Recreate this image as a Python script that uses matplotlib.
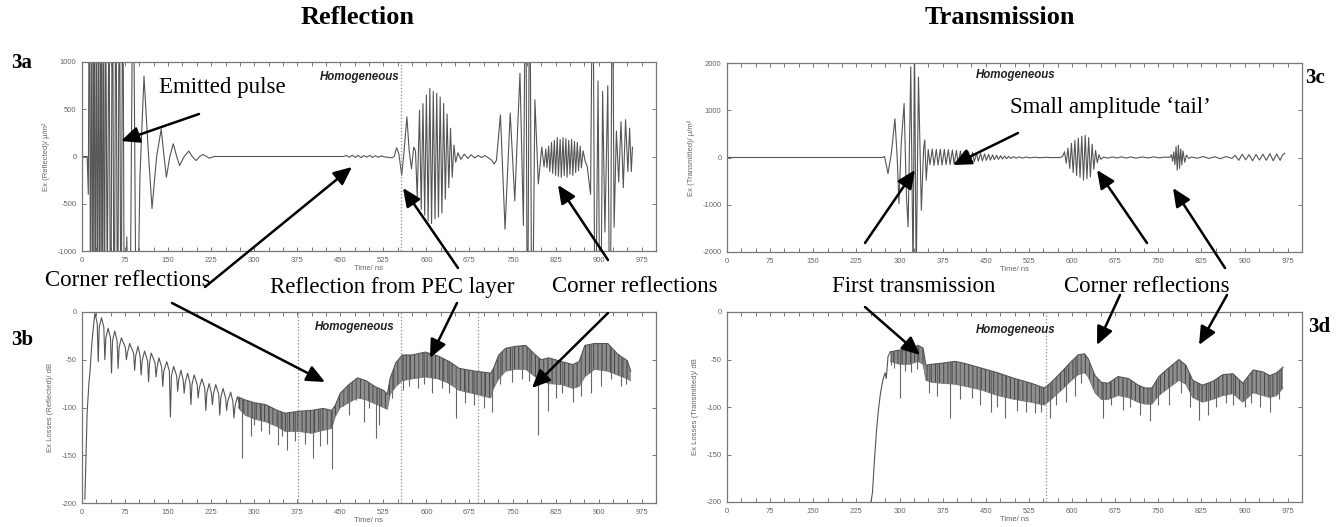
"""
Reflection / transmission GPR traces (Fig. 3a-3d re-drawn)
"""

import matplotlib.pyplot as plt
from matplotlib.patches import FancyArrowPatch
from matplotlib.ticker import MultipleLocator
import numpy as np

plt.rcParams['axes.unicode_minus'] = False
plt.rcParams['font.family'] = 'Liberation Sans'
plt.rcParams['hatch.linewidth'] = 0.7

# ---------------- data ----------------
# 3a: reflected Ex, time in ns
ra_t = [0, 9, 11, 13, 15, 17, 19, 21, 23, 25, 27, 29, 31, 33, 35, 37, 39, 41, 44, 47,
        50, 53, 56, 59, 62, 65, 68, 71, 74, 78, 83, 89, 95, 101, 108, 115, 122, 130, 138, 143,
        147, 153, 159, 165, 170, 178, 186, 192, 199, 205, 211, 217, 222, 230, 250, 455,
        461, 466, 471, 476, 481, 486, 491, 496, 501, 506, 511, 516, 521, 527, 534, 540, 544,
        548, 552, 557, 561, 566, 570, 574, 578, 581, 584, 588, 591, 594, 597, 600, 603, 606,
        609, 612, 615, 618, 621, 624, 627, 630, 633, 636, 639, 642, 645, 648, 651, 655, 660,
        666, 672, 678, 684, 690, 696, 702, 708, 714, 718, 722, 729, 737, 746, 754, 759, 763,
        769, 773, 776, 780, 784, 789, 795, 801, 805, 808, 810, 813, 815, 818, 820, 823, 825,
        828, 830, 833, 835, 838, 840, 843, 845, 848, 850, 853, 855, 858, 860, 863, 865, 868,
        870, 873, 877, 880, 886, 890, 894, 899, 903, 907, 911, 916, 920, 924, 927, 931, 935,
        939, 943, 947, 951, 954, 957, 959]
ra_v = [0, 0, -400, 2500, -2500, 2500, -2500, 2500, -2500, 2500, -2500, 2500, -2500, 2500,
        -2500, 2500, -2500, 2000, -1500, 1800, -2500, 2500, -2500, 2500, -2500, 2500, -2500,
        2500, -2500, -850, -2500, 2500, -2500, -200, 850, 100, -550, 0, 290, 0, -220, 0, 135,
        0, -96, 0, 57, 0, -43, 0, 21, 0, -18, 0, 0, 0,
        10, -8, 14, -10, 12, -12, 10, -6, 12, -10, 8, -8, 6, -4, -10, -14, 0,
        92, 30, -200, 50, 420, 60, -130, 100, 60, -430, 490, -560, 560, -620, 650, -680, 720,
        -710, 690, -660, 670, -640, 630, -600, 560, -450, 450, -330, 300, -220, 120, -60, 40,
        -30, 25, -20, 18, -15, 12, -12, 10, -15, -40, -80, -40, 440, -770, 460, -470, 300, 880,
        -730, 2500, -2500, 2500, -2500, 600, -290, 100, -110, 80, -120, 110, -160, 150, -180,
        170, -200, 200, -210, 180, -220, 200, -200, 190, -220, 170, -190, 180, -200, 160, -170,
        150, -150, 110, -120, 60, -60, -100, -400, 2500, -2500, 800, -2500, 690, -800, 750,
        -2500, 2500, -750, 270, -270, 370, -330, 390, -160, 300, -160, 100]

# 3c: transmitted Ex
tc_t = [0, 270, 274, 280, 286, 292, 296, 299, 303, 308, 312, 315, 319.6, 323.7, 326, 329,
        333, 338, 342, 344, 346.5, 350, 353, 357, 360, 364, 367, 371, 374, 378, 381, 385,
        388, 392, 395, 399, 402, 406, 409, 413, 416, 420, 423, 427, 430, 434, 437, 441, 444,
        448, 451, 455, 458, 462, 465, 469, 472, 476, 479, 483, 486, 490, 494, 498, 503, 508,
        514, 520, 527, 535, 545, 555, 565, 580, 584, 587, 590, 593, 596, 599, 602, 605, 608,
        611, 614, 617, 620, 623, 626, 629, 632, 635, 638, 641, 644, 647, 650, 655, 662, 670,
        678, 686, 694, 702, 712, 722, 732, 742, 752, 762, 770, 773, 775, 777, 779, 781, 783,
        785, 787, 789, 791, 793, 796, 799, 803, 808, 818, 828, 838, 848, 858, 868, 878, 884,
        890, 896, 902, 908, 914, 920, 926, 932, 938, 944, 950, 956, 962, 966, 970]
tc_v = [0, 0, 20, -340, 100, 820, 0, -975, 300, 1143, -800, -1470, 1920, -2600, 2600, -2600,
        1700, -1115, 200, 370, -480, 170, -150, 180, -170, 170, -160, 175, -160, 170, -150, 165,
        -150, 160, -140, 150, -130, 140, -120, 130, -110, 120, -100, 110, -90, 95, -80, 85, -70,
        75, -60, 65, -55, 55, -45, 45, -40, 38, -32, 30, -26, 24, -20, 18, -15, 14,
        -12, 10, -8, 6, -5, 4, -3, 0, 30, 120, -120, 200, -230, 300, -320, 360, -380,
        410, -420, 450, -480, 470, -450, 420, -410, 280, -250, 150, -110, 60, -40, 10, -15, 12,
        -10, 15, -12, 10, -14, 12, -10, 14, -8, 10, 0, 60, -80, 120, -150, 230, -270,
        260, -230, 180, -160, 140, -100, 50, -20, 10, -15, 20, -20, 15, -25, 20, -20, 45,
        -60, 70, -50, 60, -70, 65, -55, 70, -60, 80, -70, 75, -60, 50, 90]

# 3b: reflected losses (dB) - first rise and the scallops (top, shoulder, dip, shoulder)
rb_t = [5, 7, 9, 12, 14, 17, 20, 22.5,
        26.5, 28.3, 30, 34, 38, 39.8, 41.6, 45.5, 49.6, 51.4, 53.2, 57,
        61.1, 62.9, 64.7, 68.6, 75.5, 77.3, 79.1, 83, 89.9, 91.7, 93.5, 97.5,
        101.2, 103, 104.8, 109, 114.2, 116, 117.8, 120.5, 127.2, 129, 130.8, 134,
        138.9, 140.7, 142.5, 147.6, 152.2, 154, 155.8, 159.7, 164.9, 166.7, 168.5, 172.4,
        176.2, 178, 179.8, 184, 188, 189.8, 191.6, 195.5, 200.6, 202.4, 204.2, 208.8,
        213.9, 215.7, 217.5, 221.5, 225.4, 227.2, 229, 233, 238.2, 240, 241.8, 245.7,
        250.2, 252, 253.8, 259, 262.9, 264.7, 266.5, 270.5, 274]
rb_v = [-196, -150, -105, -75, -62, -34, -15, -1,
        -12, -52, -16, -6, -16, -50, -27, -17, -27, -64, -30, -20,
        -30, -59, -37, -27, -37, -50, -43, -33, -43, -61, -46, -36,
        -46, -66, -51, -41, -51, -73, -53, -43, -53, -68, -58, -48,
        -58, -78, -62, -52, -62, -110, -67, -57, -67, -83, -71, -61,
        -71, -85, -74, -64, -74, -97, -76, -66, -76, -90, -80, -70,
        -80, -103, -85, -75, -85, -97, -86, -76, -86, -108, -90, -80,
        -90, -103, -94, -84, -94, -111, -99, -89, -95]
# 3b: noisy band (upper / lower edge) and isolated spikes
bb_t = [272, 284, 300, 320, 340, 354, 377, 400, 420, 435, 441, 450, 465, 480, 495, 510, 525,
        532, 537, 547, 558, 575, 598, 620, 640, 657, 685, 712, 717, 726, 738, 755, 773, 790,
        800, 813, 836, 855, 866, 876, 893, 916, 933, 950, 956]
bb_upper = [-89, -92, -95, -97, -103, -106, -104, -103, -101, -103, -98, -85, -76, -69, -72,
            -78, -82, -86, -69, -53, -45, -45, -42, -46, -52, -59, -62, -64, -59, -45, -38,
            -36, -35, -45, -50, -48, -52, -55, -52, -35, -33, -33, -44, -51, -62]
bb_lower = [-100, -108, -112, -115, -120, -125, -125, -127, -124, -122, -110, -100, -95, -90,
            -92, -96, -100, -102, -86, -78, -72, -70, -68, -70, -75, -82, -86, -90, -80, -70,
            -62, -60, -60, -68, -72, -75, -76, -80, -78, -68, -60, -62, -66, -70, -72]
sb_t = [279, 294, 300, 311, 325, 342, 348, 357, 371, 388, 403, 415, 426, 435, 455, 466, 478,
        492, 500, 512, 518, 540, 560, 570, 585, 595, 610, 628, 640, 651, 668, 683, 700, 714.5,
        728, 749, 766, 778, 795, 812.6, 826, 835.6, 856, 870, 887.5, 905, 922, 939, 948]
sb_v = [-153, -130, -118, -125, -128, -139, -130, -144, -135, -138, -153, -140, -138, -164,
        -98, -108, -92, -115, -100, -132, -118, -90, -82, -78, -80, -75, -85, -80, -85, -111,
        -95, -97, -100, -105, -75, -73, -70, -72, -129, -104, -90, -85, -94, -88, -85, -78,
        -70, -77, -75]

# 3d: transmitted losses (dB)
td_t = [249, 253, 256, 260, 263, 267, 271, 275, 277, 280, 284]
td_v = [-205, -190, -160, -125, -105, -85, -72, -64, -70, -47, -42]
bd_t = [284, 300, 318, 332, 341, 346, 356, 373, 396, 413, 442, 471, 500, 529, 552, 564, 582,
        599, 611, 622, 628, 640, 651, 663, 680, 698, 715, 727, 739, 751, 768, 786, 798, 810,
        827, 845, 862, 880, 897, 915, 932, 944, 956, 967]
bd_upper = [-42, -40, -40, -35, -38, -56, -55, -54, -52, -54, -59, -64, -70, -75, -80, -74,
            -63, -52, -45, -44, -49, -67, -74, -75, -68, -70, -77, -80, -80, -68, -59, -50,
            -56, -72, -77, -73, -66, -65, -75, -61, -63, -67, -64, -58]
bd_lower = [-52, -55, -55, -52, -55, -72, -74, -75, -76, -78, -82, -88, -92, -95, -98, -92,
            -82, -72, -66, -64, -68, -85, -92, -92, -88, -90, -95, -97, -97, -88, -80, -72,
            -76, -90, -95, -92, -88, -86, -95, -85, -88, -90, -88, -80]
sd_t = [286, 291, 300, 310, 320, 330, 352, 365, 387, 405, 426, 440, 459, 470, 483, 505, 520,
        535, 546, 561, 572, 590, 605, 615, 654, 668, 689, 700, 718, 736, 750, 768, 790, 805,
        821, 836, 850, 868, 880, 900, 912, 927, 944, 960]
sd_v = [-56, -59, -91, -62, -63, -60, -85, -88, -112, -92, -90, -98, -105, -100, -112, -104,
        -105, -106, -105, -112, -98, -95, -88, -75, -112, -98, -103, -100, -108, -115, -98,
        -98, -85, -100, -114, -108, -100, -96, -98, -100, -96, -100, -105, -92]

TIME_TICKS = [0, 75, 150, 225, 300, 375, 450, 525, 600, 675, 750, 825, 900, 975]

W, H = 1343, 527
LINE = '#555555'
GREY = '#666666'


def fx(x):
    return x / W


def fy(y):
    return 1 - y / H


def add_axes(fig, left, top, right, bottom):
    return fig.add_axes([fx(left), fy(bottom), fx(right - left), (bottom - top) / H])


def style_axes(ax, ylim, yticks, ylabel):
    ax.set_xlim(0, 1000)
    ax.set_ylim(*ylim)
    ax.set_xticks(TIME_TICKS)
    ax.xaxis.set_minor_locator(MultipleLocator(25))
    ax.set_yticks(yticks)
    ax.tick_params(which='both', direction='in', top=True, right=True, length=3,
                   width=0.7, color='#777777', labelsize=5.5, labelcolor=GREY, pad=4)
    for s in ax.spines.values():
        s.set_color('#777777')
        s.set_linewidth(0.9)
    ax.set_xlabel('Time/ ns', fontsize=5.5, color=GREY, labelpad=1)
    ax.set_ylabel(ylabel, fontsize=5.5, color=GREY, labelpad=5)


def homogeneous(ax, x, y):
    ax.text(x, y, 'Homogeneous', transform=ax.get_xaxis_transform(), ha='right',
            va='center', fontsize=8.3, fontweight='bold', style='italic', color='#222222')


def band(ax, t, upper, lower, spike_t, spike_v):
    # dense oscillation drawn as a hatched strip between its two edges
    ax.fill_between(t, upper, lower, facecolor='#8e8e8e', edgecolor='#444444',
                    hatch='||||', linewidth=0)
    ax.plot(t, upper, color=LINE, lw=0.8)
    ax.plot(t, lower, color='#777777', lw=0.6)
    tops = np.interp(spike_t, t, upper)
    ax.vlines(spike_t, spike_v, tops, color='#666666', lw=0.8)


fig = plt.figure(figsize=(13.43, 5.27), dpi=100)

# 3a
ax_a = add_axes(fig, 82, 62, 656, 251)
ax_a.plot(ra_t, ra_v, color=LINE, lw=0.8)
ax_a.axvline(555, color='#888888', ls=':', lw=0.9)
style_axes(ax_a, (-1000, 1000), [-1000, -500, 0, 500, 1000], 'Ex (Reflected)/ μ/m²')
homogeneous(ax_a, 553, 0.92)

# 3c
ax_c = add_axes(fig, 727, 63, 1302, 252)
ax_c.plot(tc_t, tc_v, color=LINE, lw=0.8)
style_axes(ax_c, (-2000, 2000), [-2000, -1000, 0, 1000, 2000], 'Ex (Transmitted)/ μ/m²')
homogeneous(ax_c, 572, 0.935)

# 3b
ax_b = add_axes(fig, 82, 312, 656, 503)
ax_b.plot(rb_t, rb_v, color=LINE, lw=0.8)
band(ax_b, bb_t, bb_upper, bb_lower, sb_t, sb_v)
for xv in (377, 555, 690):
    ax_b.axvline(xv, color='#888888', ls=':', lw=0.9)
style_axes(ax_b, (-200, 0), [-200, -150, -100, -50, 0], 'Ex Losses (Reflected)/ dB')
homogeneous(ax_b, 545, 0.92)

# 3d
ax_d = add_axes(fig, 727, 312, 1302, 502)
ax_d.plot(td_t, td_v, color=LINE, lw=0.8)
band(ax_d, bd_t, bd_upper, bd_lower, sd_t, sd_v)
ax_d.axvline(555, color='#888888', ls=':', lw=0.9)
style_axes(ax_d, (-200, 0), [-200, -150, -100, -50, 0], 'Ex Losses (Transmitted)/ dB')
homogeneous(ax_d, 572, 0.905)

# headings and panel labels
serif = 'Liberation Serif'
fig.text(fx(358), fy(18), 'Reflection', ha='center', va='center', fontsize=19,
         fontweight='bold', family=serif)
fig.text(fx(1000), fy(18), 'Transmission', ha='center', va='center', fontsize=19,
         fontweight='bold', family=serif)
for lab, x, y in [('3a', 22, 63), ('3b', 22, 340), ('3c', 1315, 78), ('3d', 1319, 327)]:
    fig.text(fx(x), fy(y), lab, ha='center', va='center', fontsize=15,
             fontweight='bold', family=serif)

# annotation texts
notes = [
    ('Emitted pulse', 222, 88),
    ('Corner reflections', 128, 281),
    ('Reflection from PEC layer', 392, 288),
    ('Corner reflections', 635, 287),
    ('Small amplitude \u2018tail\u2019', 1110, 107),
    ('First transmission', 914, 287),
    ('Corner reflections', 1147, 287),
]
for s, x, y in notes:
    fig.text(fx(x), fy(y), s, ha='center', va='center', fontsize=16.5, family=serif)

# arrows: (tail x, tail y, tip x, tip y) in pixels
arrows = [
    (199, 114, 121, 141),
    (205, 287, 352, 167),
    (172, 303, 325, 382),
    (458, 268, 403, 188),
    (457, 303, 430, 358),
    (608, 260, 558, 185),
    (608, 313, 532, 388),
    (1018, 133, 953, 165),
    (865, 243, 915, 170),
    (865, 307, 920, 355),
    (1147, 243, 1097, 170),
    (1225, 268, 1173, 188),
    (1120, 295, 1097, 345),
    (1227, 295, 1199, 345),
]
for x0, y0, x1, y1 in arrows:
    fig.add_artist(FancyArrowPatch((fx(x0), fy(y0)), (fx(x1), fy(y1)),
                                   transform=fig.transFigure,
                                   arrowstyle='-|>,head_length=1.0,head_width=0.45',
                                   mutation_scale=11, lw=1.8, color='black',
                                   shrinkA=0, shrinkB=0))

fig.savefig('out.png', dpi=100, facecolor='white')
